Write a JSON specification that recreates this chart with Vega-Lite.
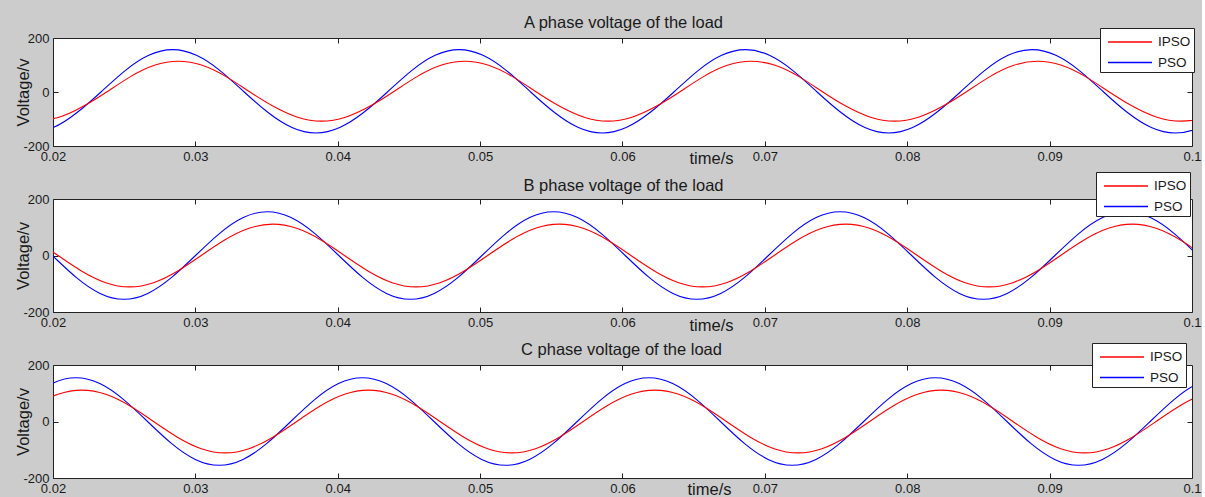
{
  "$schema": "https://vega.github.io/schema/vega-lite/v6.json",
  "background": "#cccccc",
  "padding": {"left": 14, "top": 13, "right": 0, "bottom": 0},
  "config": {
    "font": "Liberation Sans",
    "view": {"stroke": "#222222", "strokeWidth": 1, "fill": "white"},
    "axis": {"grid": false, "domain": false, "tickColor": "#222222", "tickSize": -5, "tickWidth": 1,
      "labelFont": "Liberation Sans", "labelFontSize": 13, "labelColor": "#1a1a1a", "labelPadding": 9,
      "labelFlush": false, "labelOverlap": false, "labelBound": false,
      "titleFont": "Liberation Sans", "titleFontSize": 16.5, "titleFontWeight": "normal", "titleColor": "#1a1a1a"},
    "legend": {"fillColor": "white", "strokeColor": "#222222", "padding": 3, "symbolType": "M-2.2,0H2.2", "symbolSize": 400,
      "symbolStrokeWidth": 1.6, "symbolOffset": 16, "labelOffset": 17, "labelFont": "Liberation Sans", "labelFontSize": 13.5,
      "labelColor": "#1a1a1a", "rowPadding": 2.5}
  },
  "datasets": {
    "A": [
      {"s":"PSO","t":0.018337,"v":-152},{"s":"PSO","t":0.020017,"v":-131.6},{"s":"PSO","t":0.021693,"v":-76},{"s":"PSO","t":0.02337,"v":0},
      {"s":"PSO","t":0.025047,"v":78.5},{"s":"PSO","t":0.026723,"v":136},{"s":"PSO","t":0.0284,"v":157},{"s":"PSO","t":0.030077,"v":136},
      {"s":"PSO","t":0.031753,"v":78.5},{"s":"PSO","t":0.03343,"v":0},{"s":"PSO","t":0.035107,"v":-76},{"s":"PSO","t":0.036783,"v":-131.6},
      {"s":"PSO","t":0.03846,"v":-152},{"s":"PSO","t":0.040137,"v":-131.6},{"s":"PSO","t":0.041813,"v":-76},{"s":"PSO","t":0.04349,"v":0},
      {"s":"PSO","t":0.045167,"v":78.5},{"s":"PSO","t":0.046843,"v":136},{"s":"PSO","t":0.04852,"v":157},{"s":"PSO","t":0.050197,"v":136},
      {"s":"PSO","t":0.051873,"v":78.5},{"s":"PSO","t":0.05355,"v":0},{"s":"PSO","t":0.055227,"v":-76},{"s":"PSO","t":0.056903,"v":-131.6},
      {"s":"PSO","t":0.05858,"v":-152},{"s":"PSO","t":0.060257,"v":-131.6},{"s":"PSO","t":0.061933,"v":-76},{"s":"PSO","t":0.06361,"v":0},
      {"s":"PSO","t":0.065287,"v":78.5},{"s":"PSO","t":0.066963,"v":136},{"s":"PSO","t":0.06864,"v":157},{"s":"PSO","t":0.070317,"v":136},
      {"s":"PSO","t":0.071993,"v":78.5},{"s":"PSO","t":0.07367,"v":0},{"s":"PSO","t":0.075347,"v":-76},{"s":"PSO","t":0.077023,"v":-131.6},
      {"s":"PSO","t":0.0787,"v":-152},{"s":"PSO","t":0.080377,"v":-131.6},{"s":"PSO","t":0.082053,"v":-76},{"s":"PSO","t":0.08373,"v":0},
      {"s":"PSO","t":0.085407,"v":78.5},{"s":"PSO","t":0.087083,"v":136},{"s":"PSO","t":0.08876,"v":157},{"s":"PSO","t":0.090437,"v":136},
      {"s":"PSO","t":0.092113,"v":78.5},{"s":"PSO","t":0.09379,"v":0},{"s":"PSO","t":0.095467,"v":-76},{"s":"PSO","t":0.097143,"v":-131.6},
      {"s":"PSO","t":0.09882,"v":-152},{"s":"PSO","t":0.100497,"v":-131.6},{"s":"PSO","t":0.102173,"v":-76},
      {"s":"IPSO","t":0.018737,"v":-108},{"s":"IPSO","t":0.020417,"v":-93.5},{"s":"IPSO","t":0.022093,"v":-54},{"s":"IPSO","t":0.02377,"v":0},
      {"s":"IPSO","t":0.025447,"v":57},{"s":"IPSO","t":0.027123,"v":98.7},{"s":"IPSO","t":0.0288,"v":114},{"s":"IPSO","t":0.030477,"v":98.7},
      {"s":"IPSO","t":0.032153,"v":57},{"s":"IPSO","t":0.03383,"v":0},{"s":"IPSO","t":0.035507,"v":-54},{"s":"IPSO","t":0.037183,"v":-93.5},
      {"s":"IPSO","t":0.03886,"v":-108},{"s":"IPSO","t":0.040537,"v":-93.5},{"s":"IPSO","t":0.042213,"v":-54},{"s":"IPSO","t":0.04389,"v":0},
      {"s":"IPSO","t":0.045567,"v":57},{"s":"IPSO","t":0.047243,"v":98.7},{"s":"IPSO","t":0.04892,"v":114},{"s":"IPSO","t":0.050597,"v":98.7},
      {"s":"IPSO","t":0.052273,"v":57},{"s":"IPSO","t":0.05395,"v":0},{"s":"IPSO","t":0.055627,"v":-54},{"s":"IPSO","t":0.057303,"v":-93.5},
      {"s":"IPSO","t":0.05898,"v":-108},{"s":"IPSO","t":0.060657,"v":-93.5},{"s":"IPSO","t":0.062333,"v":-54},{"s":"IPSO","t":0.06401,"v":0},
      {"s":"IPSO","t":0.065687,"v":57},{"s":"IPSO","t":0.067363,"v":98.7},{"s":"IPSO","t":0.06904,"v":114},{"s":"IPSO","t":0.070717,"v":98.7},
      {"s":"IPSO","t":0.072393,"v":57},{"s":"IPSO","t":0.07407,"v":0},{"s":"IPSO","t":0.075747,"v":-54},{"s":"IPSO","t":0.077423,"v":-93.5},
      {"s":"IPSO","t":0.0791,"v":-108},{"s":"IPSO","t":0.080777,"v":-93.5},{"s":"IPSO","t":0.082453,"v":-54},{"s":"IPSO","t":0.08413,"v":0},
      {"s":"IPSO","t":0.085807,"v":57},{"s":"IPSO","t":0.087483,"v":98.7},{"s":"IPSO","t":0.08916,"v":114},{"s":"IPSO","t":0.090837,"v":98.7},
      {"s":"IPSO","t":0.092513,"v":57},{"s":"IPSO","t":0.09419,"v":0},{"s":"IPSO","t":0.095867,"v":-54},{"s":"IPSO","t":0.097543,"v":-93.5},
      {"s":"IPSO","t":0.09922,"v":-108},{"s":"IPSO","t":0.100897,"v":-93.5},{"s":"IPSO","t":0.102573,"v":-54}
    ],
    "B": [
      {"s":"PSO","t":0.018273,"v":77.5},{"s":"PSO","t":0.01995,"v":0},{"s":"PSO","t":0.021627,"v":-77.5},{"s":"PSO","t":0.023303,"v":-134.2},
      {"s":"PSO","t":0.02498,"v":-155},{"s":"PSO","t":0.026657,"v":-134.2},{"s":"PSO","t":0.028333,"v":-77.5},{"s":"PSO","t":0.03001,"v":0},
      {"s":"PSO","t":0.031687,"v":77.5},{"s":"PSO","t":0.033363,"v":134.2},{"s":"PSO","t":0.03504,"v":155},{"s":"PSO","t":0.036717,"v":134.2},
      {"s":"PSO","t":0.038393,"v":77.5},{"s":"PSO","t":0.04007,"v":0},{"s":"PSO","t":0.041747,"v":-77.5},{"s":"PSO","t":0.043423,"v":-134.2},
      {"s":"PSO","t":0.0451,"v":-155},{"s":"PSO","t":0.046777,"v":-134.2},{"s":"PSO","t":0.048453,"v":-77.5},{"s":"PSO","t":0.05013,"v":0},
      {"s":"PSO","t":0.051807,"v":77.5},{"s":"PSO","t":0.053483,"v":134.2},{"s":"PSO","t":0.05516,"v":155},{"s":"PSO","t":0.056837,"v":134.2},
      {"s":"PSO","t":0.058513,"v":77.5},{"s":"PSO","t":0.06019,"v":0},{"s":"PSO","t":0.061867,"v":-77.5},{"s":"PSO","t":0.063543,"v":-134.2},
      {"s":"PSO","t":0.06522,"v":-155},{"s":"PSO","t":0.066897,"v":-134.2},{"s":"PSO","t":0.068573,"v":-77.5},{"s":"PSO","t":0.07025,"v":0},
      {"s":"PSO","t":0.071927,"v":77.5},{"s":"PSO","t":0.073603,"v":134.2},{"s":"PSO","t":0.07528,"v":155},{"s":"PSO","t":0.076957,"v":134.2},
      {"s":"PSO","t":0.078633,"v":77.5},{"s":"PSO","t":0.08031,"v":0},{"s":"PSO","t":0.081987,"v":-77.5},{"s":"PSO","t":0.083663,"v":-134.2},
      {"s":"PSO","t":0.08534,"v":-155},{"s":"PSO","t":0.087017,"v":-134.2},{"s":"PSO","t":0.088693,"v":-77.5},{"s":"PSO","t":0.09037,"v":0},
      {"s":"PSO","t":0.092047,"v":77.5},{"s":"PSO","t":0.093723,"v":134.2},{"s":"PSO","t":0.0954,"v":155},{"s":"PSO","t":0.097077,"v":134.2},
      {"s":"PSO","t":0.098753,"v":77.5},{"s":"PSO","t":0.10043,"v":0},{"s":"PSO","t":0.102107,"v":-77.5},
      {"s":"IPSO","t":0.018673,"v":55.5},{"s":"IPSO","t":0.02035,"v":0},{"s":"IPSO","t":0.022027,"v":-55.5},{"s":"IPSO","t":0.023703,"v":-96.1},
      {"s":"IPSO","t":0.02538,"v":-111},{"s":"IPSO","t":0.027057,"v":-96.1},{"s":"IPSO","t":0.028733,"v":-55.5},{"s":"IPSO","t":0.03041,"v":0},
      {"s":"IPSO","t":0.032087,"v":55.5},{"s":"IPSO","t":0.033763,"v":96.1},{"s":"IPSO","t":0.03544,"v":111},{"s":"IPSO","t":0.037117,"v":96.1},
      {"s":"IPSO","t":0.038793,"v":55.5},{"s":"IPSO","t":0.04047,"v":0},{"s":"IPSO","t":0.042147,"v":-55.5},{"s":"IPSO","t":0.043823,"v":-96.1},
      {"s":"IPSO","t":0.0455,"v":-111},{"s":"IPSO","t":0.047177,"v":-96.1},{"s":"IPSO","t":0.048853,"v":-55.5},{"s":"IPSO","t":0.05053,"v":0},
      {"s":"IPSO","t":0.052207,"v":55.5},{"s":"IPSO","t":0.053883,"v":96.1},{"s":"IPSO","t":0.05556,"v":111},{"s":"IPSO","t":0.057237,"v":96.1},
      {"s":"IPSO","t":0.058913,"v":55.5},{"s":"IPSO","t":0.06059,"v":0},{"s":"IPSO","t":0.062267,"v":-55.5},{"s":"IPSO","t":0.063943,"v":-96.1},
      {"s":"IPSO","t":0.06562,"v":-111},{"s":"IPSO","t":0.067297,"v":-96.1},{"s":"IPSO","t":0.068973,"v":-55.5},{"s":"IPSO","t":0.07065,"v":0},
      {"s":"IPSO","t":0.072327,"v":55.5},{"s":"IPSO","t":0.074003,"v":96.1},{"s":"IPSO","t":0.07568,"v":111},{"s":"IPSO","t":0.077357,"v":96.1},
      {"s":"IPSO","t":0.079033,"v":55.5},{"s":"IPSO","t":0.08071,"v":0},{"s":"IPSO","t":0.082387,"v":-55.5},{"s":"IPSO","t":0.084063,"v":-96.1},
      {"s":"IPSO","t":0.08574,"v":-111},{"s":"IPSO","t":0.087417,"v":-96.1},{"s":"IPSO","t":0.089093,"v":-55.5},{"s":"IPSO","t":0.09077,"v":0},
      {"s":"IPSO","t":0.092447,"v":55.5},{"s":"IPSO","t":0.094123,"v":96.1},{"s":"IPSO","t":0.0958,"v":111},{"s":"IPSO","t":0.097477,"v":96.1},
      {"s":"IPSO","t":0.099153,"v":55.5},{"s":"IPSO","t":0.10083,"v":0},{"s":"IPSO","t":0.102507,"v":-55.5}
    ],
    "C": [
      {"s":"PSO","t":0.01658,"v":0},{"s":"PSO","t":0.018257,"v":77.5},{"s":"PSO","t":0.019933,"v":134.2},{"s":"PSO","t":0.02161,"v":155},
      {"s":"PSO","t":0.023287,"v":134.2},{"s":"PSO","t":0.024963,"v":77.5},{"s":"PSO","t":0.02664,"v":0},{"s":"PSO","t":0.028317,"v":-77.5},
      {"s":"PSO","t":0.029993,"v":-134.2},{"s":"PSO","t":0.03167,"v":-155},{"s":"PSO","t":0.033347,"v":-134.2},{"s":"PSO","t":0.035023,"v":-77.5},
      {"s":"PSO","t":0.0367,"v":0},{"s":"PSO","t":0.038377,"v":77.5},{"s":"PSO","t":0.040053,"v":134.2},{"s":"PSO","t":0.04173,"v":155},
      {"s":"PSO","t":0.043407,"v":134.2},{"s":"PSO","t":0.045083,"v":77.5},{"s":"PSO","t":0.04676,"v":0},{"s":"PSO","t":0.048437,"v":-77.5},
      {"s":"PSO","t":0.050113,"v":-134.2},{"s":"PSO","t":0.05179,"v":-155},{"s":"PSO","t":0.053467,"v":-134.2},{"s":"PSO","t":0.055143,"v":-77.5},
      {"s":"PSO","t":0.05682,"v":0},{"s":"PSO","t":0.058497,"v":77.5},{"s":"PSO","t":0.060173,"v":134.2},{"s":"PSO","t":0.06185,"v":155},
      {"s":"PSO","t":0.063527,"v":134.2},{"s":"PSO","t":0.065203,"v":77.5},{"s":"PSO","t":0.06688,"v":0},{"s":"PSO","t":0.068557,"v":-77.5},
      {"s":"PSO","t":0.070233,"v":-134.2},{"s":"PSO","t":0.07191,"v":-155},{"s":"PSO","t":0.073587,"v":-134.2},{"s":"PSO","t":0.075263,"v":-77.5},
      {"s":"PSO","t":0.07694,"v":0},{"s":"PSO","t":0.078617,"v":77.5},{"s":"PSO","t":0.080293,"v":134.2},{"s":"PSO","t":0.08197,"v":155},
      {"s":"PSO","t":0.083647,"v":134.2},{"s":"PSO","t":0.085323,"v":77.5},{"s":"PSO","t":0.087,"v":0},{"s":"PSO","t":0.088677,"v":-77.5},
      {"s":"PSO","t":0.090353,"v":-134.2},{"s":"PSO","t":0.09203,"v":-155},{"s":"PSO","t":0.093707,"v":-134.2},{"s":"PSO","t":0.095383,"v":-77.5},
      {"s":"PSO","t":0.09706,"v":0},{"s":"PSO","t":0.098737,"v":77.5},{"s":"PSO","t":0.100413,"v":134.2},{"s":"PSO","t":0.10209,"v":155},
      {"s":"IPSO","t":0.0170,"v":0},{"s":"IPSO","t":0.018677,"v":55.5},{"s":"IPSO","t":0.020353,"v":96.1},{"s":"IPSO","t":0.02203,"v":111},
      {"s":"IPSO","t":0.023707,"v":96.1},{"s":"IPSO","t":0.025383,"v":55.5},{"s":"IPSO","t":0.02706,"v":0},{"s":"IPSO","t":0.028737,"v":-55.5},
      {"s":"IPSO","t":0.030413,"v":-96.1},{"s":"IPSO","t":0.03209,"v":-111},{"s":"IPSO","t":0.033767,"v":-96.1},{"s":"IPSO","t":0.035443,"v":-55.5},
      {"s":"IPSO","t":0.03712,"v":0},{"s":"IPSO","t":0.038797,"v":55.5},{"s":"IPSO","t":0.040473,"v":96.1},{"s":"IPSO","t":0.04215,"v":111},
      {"s":"IPSO","t":0.043827,"v":96.1},{"s":"IPSO","t":0.045503,"v":55.5},{"s":"IPSO","t":0.04718,"v":0},{"s":"IPSO","t":0.048857,"v":-55.5},
      {"s":"IPSO","t":0.050533,"v":-96.1},{"s":"IPSO","t":0.05221,"v":-111},{"s":"IPSO","t":0.053887,"v":-96.1},{"s":"IPSO","t":0.055563,"v":-55.5},
      {"s":"IPSO","t":0.05724,"v":0},{"s":"IPSO","t":0.058917,"v":55.5},{"s":"IPSO","t":0.060593,"v":96.1},{"s":"IPSO","t":0.06227,"v":111},
      {"s":"IPSO","t":0.063947,"v":96.1},{"s":"IPSO","t":0.065623,"v":55.5},{"s":"IPSO","t":0.0673,"v":0},{"s":"IPSO","t":0.068977,"v":-55.5},
      {"s":"IPSO","t":0.070653,"v":-96.1},{"s":"IPSO","t":0.07233,"v":-111},{"s":"IPSO","t":0.074007,"v":-96.1},{"s":"IPSO","t":0.075683,"v":-55.5},
      {"s":"IPSO","t":0.07736,"v":0},{"s":"IPSO","t":0.079037,"v":55.5},{"s":"IPSO","t":0.080713,"v":96.1},{"s":"IPSO","t":0.08239,"v":111},
      {"s":"IPSO","t":0.084067,"v":96.1},{"s":"IPSO","t":0.085743,"v":55.5},{"s":"IPSO","t":0.08742,"v":0},{"s":"IPSO","t":0.089097,"v":-55.5},
      {"s":"IPSO","t":0.090773,"v":-96.1},{"s":"IPSO","t":0.09245,"v":-111},{"s":"IPSO","t":0.094127,"v":-96.1},{"s":"IPSO","t":0.095803,"v":-55.5},
      {"s":"IPSO","t":0.09748,"v":0},{"s":"IPSO","t":0.099157,"v":55.5},{"s":"IPSO","t":0.100833,"v":96.1},{"s":"IPSO","t":0.10251,"v":111}
    ]
  },
  "bounds": "flush",
  "spacing": 53,
  "resolve": {"scale": {"color": "independent"}, "legend": {"color": "independent"}},
  "vconcat": [
    {
      "width": 1139, "height": 108,
      "data": {"name": "A"},
      "layer": [
        {"mark": {"type": "line", "clip": true, "interpolate": "natural", "strokeWidth": 1.1},
         "encoding": {
           "x": {"field": "t", "type": "quantitative", "scale": {"domain": [0.02, 0.1], "nice": false, "zero": false},
             "axis": {"orient": "bottom", "values": [0.02,0.03,0.04,0.05,0.06,0.07,0.08,0.09,0.1], "format": ".2~f", "title": "time/s", "titleX": 658, "titleY": 12, "titleBaseline": "middle", "titleAlign": "center"}},
           "y": {"field": "v", "type": "quantitative", "scale": {"domain": [-200, 200], "nice": false},
             "axis": {"orient": "left", "values": [-200, 0, 200], "labelExpr": "datum.value + ''", "title": "Voltage/v", "titleX": -30, "titleY": 54, "titleAngle": 270, "titleBaseline": "middle", "titleAlign": "center"}},
           "color": {"field": "s", "type": "nominal", "scale": {"domain": ["IPSO", "PSO"], "range": ["#ff0000", "#0000ff"]},
             "legend": {"title": null, "orient": "none", "legendX": 1047, "legendY": -10}}
         }},
        {"mark": {"type": "line", "clip": true, "opacity": 0},
         "encoding": {
           "x": {"field": "t", "type": "quantitative", "scale": {"domain": [0.02, 0.1], "nice": false, "zero": false},
             "axis": {"orient": "top", "values": [0.03,0.04,0.05,0.06,0.07,0.08,0.09], "labels": false, "title": "A phase voltage of the load", "titleX": 570, "titleY": -11, "titleBaseline": "alphabetic", "titleAlign": "center", "titleAngle": 0}},
           "y": {"field": "v", "type": "quantitative", "scale": {"domain": [-200, 200], "nice": false},
             "axis": {"orient": "right", "values": [0], "labels": false, "title": null}}
         }}
      ],
      "resolve": {"axis": {"x": "independent", "y": "independent"}}
    },
    {
      "width": 1139, "height": 113,
      "data": {"name": "B"},
      "layer": [
        {"mark": {"type": "line", "clip": true, "interpolate": "natural", "strokeWidth": 1.1},
         "encoding": {
           "x": {"field": "t", "type": "quantitative", "scale": {"domain": [0.02, 0.1], "nice": false, "zero": false},
             "axis": {"orient": "bottom", "values": [0.02,0.03,0.04,0.05,0.06,0.07,0.08,0.09,0.1], "format": ".2~f", "title": "time/s", "titleX": 658, "titleY": 13, "titleBaseline": "middle", "titleAlign": "center"}},
           "y": {"field": "v", "type": "quantitative", "scale": {"domain": [-200, 200], "nice": false},
             "axis": {"orient": "left", "values": [-200, 0, 200], "labelExpr": "datum.value + ''", "title": "Voltage/v", "titleX": -30, "titleY": 56.5, "titleAngle": 270, "titleBaseline": "middle", "titleAlign": "center"}},
           "color": {"field": "s", "type": "nominal", "scale": {"domain": ["IPSO", "PSO"], "range": ["#ff0000", "#0000ff"]},
             "legend": {"title": null, "orient": "none", "legendX": 1043, "legendY": -27}}
         }},
        {"mark": {"type": "line", "clip": true, "opacity": 0},
         "encoding": {
           "x": {"field": "t", "type": "quantitative", "scale": {"domain": [0.02, 0.1], "nice": false, "zero": false},
             "axis": {"orient": "top", "values": [0.03,0.04,0.05,0.06,0.07,0.08,0.09], "labels": false, "title": "B phase voltage of the load", "titleX": 570, "titleY": -9, "titleBaseline": "alphabetic", "titleAlign": "center", "titleAngle": 0}},
           "y": {"field": "v", "type": "quantitative", "scale": {"domain": [-200, 200], "nice": false},
             "axis": {"orient": "right", "values": [0], "labels": false, "title": null}}
         }}
      ],
      "resolve": {"axis": {"x": "independent", "y": "independent"}}
    },
    {
      "width": 1139, "height": 113,
      "data": {"name": "C"},
      "layer": [
        {"mark": {"type": "line", "clip": true, "interpolate": "natural", "strokeWidth": 1.1},
         "encoding": {
           "x": {"field": "t", "type": "quantitative", "scale": {"domain": [0.02, 0.1], "nice": false, "zero": false},
             "axis": {"orient": "bottom", "values": [0.02,0.03,0.04,0.05,0.06,0.07,0.08,0.09,0.1], "format": ".2~f", "title": "time/s", "titleX": 656, "titleY": 11, "titleBaseline": "middle", "titleAlign": "center"}},
           "y": {"field": "v", "type": "quantitative", "scale": {"domain": [-200, 200], "nice": false},
             "axis": {"orient": "left", "values": [-200, 0, 200], "labelExpr": "datum.value + ''", "title": "Voltage/v", "titleX": -30, "titleY": 56.5, "titleAngle": 270, "titleBaseline": "middle", "titleAlign": "center"}},
           "color": {"field": "s", "type": "nominal", "scale": {"domain": ["IPSO", "PSO"], "range": ["#ff0000", "#0000ff"]},
             "legend": {"title": null, "orient": "none", "legendX": 1039, "legendY": -22}}
         }},
        {"mark": {"type": "line", "clip": true, "opacity": 0},
         "encoding": {
           "x": {"field": "t", "type": "quantitative", "scale": {"domain": [0.02, 0.1], "nice": false, "zero": false},
             "axis": {"orient": "top", "values": [0.03,0.04,0.05,0.06,0.07,0.08,0.09], "labels": false, "title": "C phase voltage of the load", "titleX": 568, "titleY": -11, "titleBaseline": "alphabetic", "titleAlign": "center", "titleAngle": 0}},
           "y": {"field": "v", "type": "quantitative", "scale": {"domain": [-200, 200], "nice": false},
             "axis": {"orient": "right", "values": [0], "labels": false, "title": null}}
         }}
      ],
      "resolve": {"axis": {"x": "independent", "y": "independent"}}
    }
  ]
}
